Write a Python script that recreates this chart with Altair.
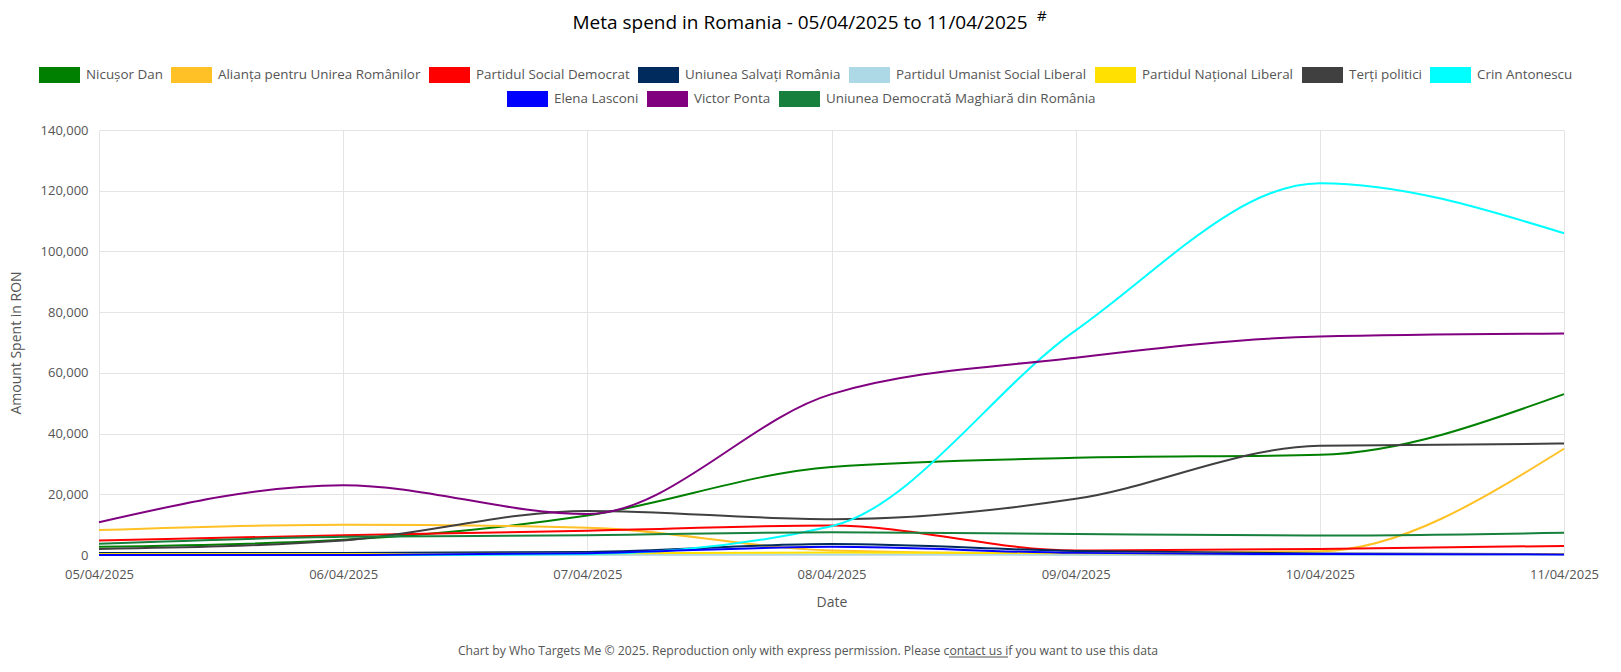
import altair as alt
import pandas as pd

dates = ["05/04/2025", "06/04/2025", "07/04/2025", "08/04/2025", "09/04/2025", "10/04/2025", "11/04/2025"]

names = [
    "Nicușor Dan", "Alianța pentru Unirea Românilor", "Partidul Social Democrat",
    "Uniunea Salvați România", "Partidul Umanist Social Liberal", "Partidul Național Liberal",
    "Terți politici", "Crin Antonescu", "Elena Lasconi", "Victor Ponta",
    "Uniunea Democrată Maghiară din România",
]
colors = ["#008000", "#FFC125", "#FF0000", "#002B5C", "#ADD8E6", "#FFE000",
          "#404040", "#00FFFF", "#0000FF", "#800080", "#17803D"]

nicusor_dan = [2700, 5000, 13000, 29000, 32000, 33000, 53000]
aur = [8200, 10000, 9000, 1500, 500, 1200, 35000]
psd = [4800, 6500, 8000, 9700, 1500, 2000, 3000]
usr = [700, 700, 1000, 3600, 1300, 500, 300]
pusl = [100, 100, 100, 200, 100, 100, 100]
pnl = [300, 300, 500, 800, 600, 300, 300]
terti = [2000, 4800, 14500, 11800, 18500, 36000, 36700]
crin = [0, 0, 300, 9500, 74000, 122500, 106000]
elena = [0, 0, 600, 2700, 700, 300, 200]
ponta = [10800, 23000, 13500, 53000, 65000, 72000, 73000]
udmr = [3700, 6000, 6500, 7500, 6900, 6400, 7300]

series = [nicusor_dan, aur, psd, usr, pusl, pnl, terti, crin, elena, ponta, udmr]

title_text = "Meta spend in Romania - 05/04/2025 to 11/04/2025"
footer_text = "Chart by Who Targets Me © 2025. Reproduction only with express permission. Please contact us if you want to use this data"

rows = []
for n, vals in zip(names, series):
    for d, v in zip(dates, vals):
        rows.append({"party": n, "date": d, "amount": v})
df = pd.DataFrame(rows)

FONT = "Open Sans"
sym_path = "M-1,-1H4.125V1H-1Z"

base = alt.Chart(df)

lines = base.mark_line(interpolate="monotone", strokeWidth=2).encode(
    x=alt.X("date:O", sort=dates, scale=alt.Scale(type="point", padding=0),
            axis=alt.Axis(title="Date", labelAngle=0, ticks=False, domain=False,
                          grid=True, gridColor="#e4e4e4", labelFontSize=13,
                          labelColor="#555", titleFontSize=14, titleColor="#555",
                          titleFontWeight="normal", labelPadding=13, titlePadding=14,
                          labelFont=FONT, titleFont=FONT)),
    y=alt.Y("amount:Q", scale=alt.Scale(domain=[0, 140000], nice=False),
            axis=alt.Axis(title="Amount Spent in RON", values=list(range(0, 140001, 20000)),
                          format=",d", ticks=False, domain=False, gridColor="#e4e4e4",
                          labelFontSize=13, labelColor="#555", titleFontSize=14,
                          titleColor="#555", titleFontWeight="normal", labelPadding=11,
                          titlePadding=17, labelFont=FONT, titleFont=FONT)),
    stroke=alt.Stroke("party:N", scale=alt.Scale(domain=names, range=colors), legend=None),
    detail="party:N",
)

leg_common = dict(direction="horizontal", orient="none", title=None, symbolType=sym_path,
                  symbolSize=256, symbolStrokeWidth=0, symbolOpacity=1, labelOffset=31,
                  columnPadding=8, labelFontSize=13.4, labelColor="#555", labelFont=FONT,
                  labelLimit=400)

legend_a = base.mark_square(filled=True).transform_filter("false").encode(
    fill=alt.Fill("party:N", scale=alt.Scale(domain=names[:8], range=colors[:8]),
                  legend=alt.Legend(legendX=-60, legendY=-63, **leg_common)),
)
legend_b = base.mark_square(filled=True).transform_filter("false").encode(
    color=alt.Color("party:N", scale=alt.Scale(domain=names[8:], range=colors[8:]),
                    legend=alt.Legend(legendX=408, legendY=-39, **leg_common)),
)

title_df = pd.DataFrame({"t": [title_text]})
title_mark = alt.Chart(title_df).mark_text(fontSize=19, color="black", font=FONT, align="center",
                                           baseline="middle").encode(
    text="t:N", x=alt.value(701), y=alt.value(-107))

footer_df = pd.DataFrame({"t": [footer_text]})
footer = alt.Chart(footer_df).mark_text(fontSize=12.2, color="#555", font=FONT, align="center",
                                        baseline="middle").encode(
    text="t:N", x=alt.value(709), y=alt.value(521))

underline = alt.Chart(footer_df).mark_rule(color="#555", strokeWidth=1).encode(
    x=alt.value(850), x2=alt.value(909), y=alt.value(527))

hash_df = pd.DataFrame({"t": ["#"]})
hash_mark = alt.Chart(hash_df).mark_text(fontSize=15, color="black", font=FONT, align="left",
                                         baseline="middle").encode(
    text="t:N", x=alt.value(938), y=alt.value(-114))

chart = alt.layer(lines, legend_a, legend_b, title_mark, footer, underline, hash_mark).properties(
    width=1465, height=425,
    autosize=alt.AutoSizeParams(type="none"),
    padding={"left": 91, "top": 122, "right": 49, "bottom": 109},
).configure_view(stroke=None).resolve_scale(fill="independent", color="independent")

chart.save("out.html", embed_options={"renderer": "svg", "actions": False})
